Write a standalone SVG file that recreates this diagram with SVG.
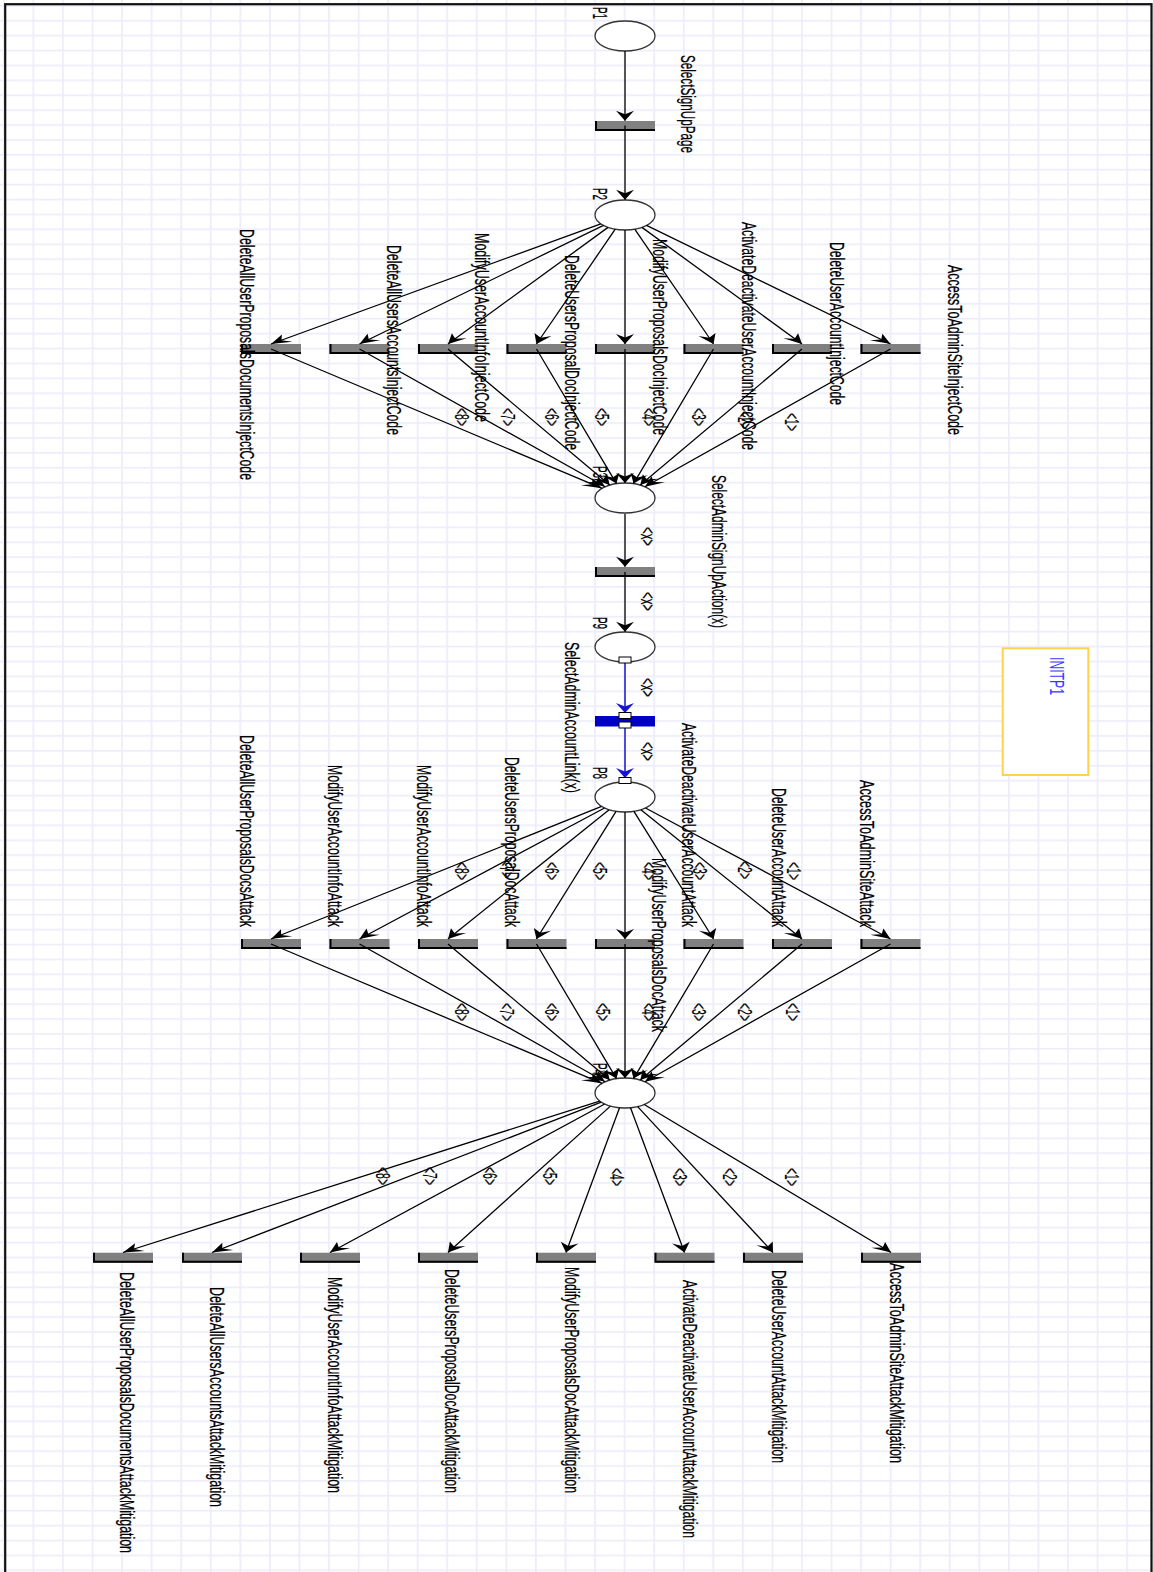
<svg xmlns="http://www.w3.org/2000/svg" width="1153" height="1572" viewBox="0 0 1153 1572">
  <defs>
    <style>
      .place{fill:#fff;stroke:#333;stroke-width:1.3}
      .trans{fill:#808080}
      .transb{fill:#0000c4}
      .edge{fill:none;stroke:#000;stroke-width:2}
      .arc{fill:none;stroke:#000;stroke-width:1.3;vector-effect:non-scaling-stroke;marker-end:url(#ah)}
      .arcb{fill:none;stroke:#1414d2;stroke-width:1.5;vector-effect:non-scaling-stroke;marker-end:url(#ahb)}
      .lbl{font-family:"Liberation Sans",Arial,sans-serif;font-size:21px;fill:#000;stroke:#000;stroke-width:0.25}
      .w{font-family:"Liberation Sans",Arial,sans-serif;font-size:20px;fill:#000;stroke:#000;stroke-width:0.2}
      .init{font-family:"Liberation Sans",Arial,sans-serif;font-size:21px;fill:#3a3aff}
      .handle{fill:#fff;stroke:#000;stroke-width:1}
    </style>
    <pattern id="grid" patternUnits="userSpaceOnUse" x="32.5" y="19.9" width="29.56" height="14.9">
      <rect x="0" y="0" width="1.7" height="14.9" fill="#ececfb"/>
      <rect x="0" y="0" width="29.56" height="1.6" fill="#ececfb"/>
    </pattern>
    <marker id="ah" markerUnits="userSpaceOnUse" markerWidth="26" markerHeight="26" viewBox="-23 -13 26 26" refX="0" refY="0" orient="auto" overflow="visible">
      <path d="M0,0 L-20,-9 L-13,0 L-20,9 Z" fill="#000"/>
    </marker>
    <marker id="ahb" markerUnits="userSpaceOnUse" markerWidth="26" markerHeight="26" viewBox="-23 -13 26 26" refX="0" refY="0" orient="auto" overflow="visible">
      <path d="M0,0 L-20,-9 L-13,0 L-20,9 Z" fill="#1414d2"/>
    </marker>
  </defs>

  <!-- canvas -->
  <rect x="0" y="0" width="1153" height="1572" fill="#fff"/>
  <rect x="0" y="0" width="1153" height="1572" fill="url(#grid)"/>
  <rect x="5.2" y="4.2" width="1146.3" height="1600" fill="none" stroke="#111" stroke-width="2.2"/>

  <!-- places -->
  <g id="P1"><ellipse class="place" cx="625" cy="36" rx="30" ry="15"/>
    <text class="lbl" transform="translate(592.5,7) rotate(90) scale(0.58,1)" textLength="20.7" lengthAdjust="spacingAndGlyphs">P1</text></g>
  <g id="P2"><ellipse class="place" cx="625" cy="215" rx="30" ry="15"/>
    <text class="lbl" transform="translate(592.5,188) rotate(90) scale(0.58,1)" textLength="20.7" lengthAdjust="spacingAndGlyphs">P2</text></g>
  <g id="P3"><ellipse class="place" cx="625" cy="498" rx="30" ry="15"/>
    <text class="lbl" transform="translate(592.5,466) rotate(90) scale(0.58,1)" textLength="20.7" lengthAdjust="spacingAndGlyphs">P3</text></g>
  <g id="P9"><ellipse class="place" cx="625" cy="647" rx="30" ry="15"/>
    <text class="lbl" transform="translate(592.5,617) rotate(90) scale(0.58,1)" textLength="20.7" lengthAdjust="spacingAndGlyphs">P9</text></g>
  <g id="P8"><ellipse class="place" cx="625" cy="797" rx="30" ry="15"/>
    <text class="lbl" transform="translate(592.5,767) rotate(90) scale(0.58,1)" textLength="20.7" lengthAdjust="spacingAndGlyphs">P8</text></g>
  <g id="P4"><ellipse class="place" cx="625" cy="1093" rx="30" ry="15"/>
    <text class="lbl" transform="translate(592.5,1063) rotate(90) scale(0.58,1)" textLength="20.7" lengthAdjust="spacingAndGlyphs">P4</text></g>

  <!-- initial marking box -->
  <g id="INITP1">
    <rect x="1002.7" y="648.3" width="85.6" height="126.7" fill="#fff" stroke="#ffd24a" stroke-width="2"/>
    <text class="init" transform="translate(1049.5,657) rotate(90) scale(0.58,1)" textLength="65.5" lengthAdjust="spacingAndGlyphs">INITP1</text>
  </g>

  <!-- entry transitions -->
  <g id="SelectSignUpPage"><rect class="trans" x="595" y="121" width="60" height="10"/><path class="edge" d="M596,121 V130 H655"/>
    <text class="lbl" transform="translate(681,55) rotate(90) scale(0.58,1)" textLength="169" lengthAdjust="spacingAndGlyphs">SelectSignUpPage</text></g>
  <g id="SelectAdminSignUpAction"><rect class="trans" x="595" y="567" width="60" height="10"/><path class="edge" d="M596,567 V576 H655"/>
    <text class="lbl" transform="translate(711.5,475) rotate(90) scale(0.58,1)" textLength="263.8" lengthAdjust="spacingAndGlyphs">SelectAdminSignUpAction(x)</text></g>
  <g id="SelectAdminAccountLink"><rect class="transb" x="595" y="716" width="60" height="10.5"/>
    <text class="lbl" transform="translate(564.5,642) rotate(90) scale(0.58,1)" textLength="260.3" lengthAdjust="spacingAndGlyphs">SelectAdminAccountLink(x)</text></g>

  <!-- inject-code transitions -->
  <g id="DeleteAllUserProposalsDocumentsInjectCode"><rect class="trans" x="241" y="344" width="60" height="10"/><path class="edge" d="M242,344 V353 H301"/>
    <text class="lbl" transform="translate(239.5,229) rotate(90) scale(0.58,1)" textLength="432.8" lengthAdjust="spacingAndGlyphs">DeleteAllUserProposalsDocumentsInjectCode</text></g>
  <g id="DeleteAllUsersAccountsInjectCode"><rect class="trans" x="329.5" y="344" width="60" height="10"/><path class="edge" d="M330.5,344 V353 H389.5"/>
    <text class="lbl" transform="translate(387.2,245) rotate(90) scale(0.58,1)" textLength="327.6" lengthAdjust="spacingAndGlyphs">DeleteAllUsersAccountsInjectCode</text></g>
  <g id="ModifyUserAccountInfoInjectCode"><rect class="trans" x="418" y="344" width="60" height="10"/><path class="edge" d="M419,344 V353 H478"/>
    <text class="lbl" transform="translate(475.2,233) rotate(90) scale(0.58,1)" textLength="325.9" lengthAdjust="spacingAndGlyphs">ModifyUserAccountInfoInjectCode</text></g>
  <g id="DeleteUsersProposalDocInjectCode"><rect class="trans" x="506.5" y="344" width="60" height="10"/><path class="edge" d="M507.5,344 V353 H566.5"/>
    <text class="lbl" transform="translate(564.5,255) rotate(90) scale(0.58,1)" textLength="336.2" lengthAdjust="spacingAndGlyphs">DeleteUsersProposalDocInjectCode</text></g>
  <g id="ModifyUserProposalsDocInjectCode"><rect class="trans" x="595" y="344" width="60" height="10"/><path class="edge" d="M596,344 V353 H655"/>
    <text class="lbl" transform="translate(652.5,239) rotate(90) scale(0.58,1)" textLength="337.9" lengthAdjust="spacingAndGlyphs">ModifyUserProposalsDocInjectCode</text></g>
  <g id="ActivateDeactivateUserAccountInjectCode"><rect class="trans" x="683.5" y="344" width="60" height="10"/><path class="edge" d="M684.5,344 V353 H743.5"/>
    <text class="lbl" transform="translate(741.5,222) rotate(90) scale(0.58,1)" textLength="393.1" lengthAdjust="spacingAndGlyphs">ActivateDeactivateUserAccountInjectCode</text></g>
  <g id="DeleteUserAccountInjectCode"><rect class="trans" x="772" y="344" width="60" height="10"/><path class="edge" d="M773,344 V353 H832"/>
    <text class="lbl" transform="translate(830.2,242) rotate(90) scale(0.58,1)" textLength="281" lengthAdjust="spacingAndGlyphs">DeleteUserAccountInjectCode</text></g>
  <g id="AccessToAdminSiteInjectCode"><rect class="trans" x="860.5" y="344" width="60" height="10"/><path class="edge" d="M861.5,344 V353 H920.5"/>
    <text class="lbl" transform="translate(947.5,265) rotate(90) scale(0.58,1)" textLength="293.1" lengthAdjust="spacingAndGlyphs">AccessToAdminSiteInjectCode</text></g>

  <!-- attack transitions -->
  <g id="DeleteAllUserProposalsDocsAttack"><rect class="trans" x="241" y="939" width="60" height="10"/><path class="edge" d="M242,939 V948 H301"/>
    <text class="lbl" transform="translate(239.5,735) rotate(90) scale(0.58,1)" textLength="331" lengthAdjust="spacingAndGlyphs">DeleteAllUserProposalsDocsAttack</text></g>
  <g id="DeleteAllUsersAccountsAttack"><rect class="trans" x="329.5" y="939" width="60" height="10"/><path class="edge" d="M330.5,939 V948 H389.5"/>
    <text class="lbl" transform="translate(327.5,765) rotate(90) scale(0.58,1)" textLength="279.3" lengthAdjust="spacingAndGlyphs">ModifyUserAccountInfoAttack</text></g>
  <g id="ModifyUserAccountInfoAttack"><rect class="trans" x="418" y="939" width="60" height="10"/><path class="edge" d="M419,939 V948 H478"/>
    <text class="lbl" transform="translate(416.5,765) rotate(90) scale(0.58,1)" textLength="279.3" lengthAdjust="spacingAndGlyphs">ModifyUserAccountInfoAttack</text></g>
  <g id="DeleteUsersProposalDocAttack"><rect class="trans" x="506.5" y="939" width="60" height="10"/><path class="edge" d="M507.5,939 V948 H566.5"/>
    <text class="lbl" transform="translate(504.5,757) rotate(90) scale(0.58,1)" textLength="293.1" lengthAdjust="spacingAndGlyphs">DeleteUsersProposalDocAttack</text></g>
  <g id="ModifyUserProposalsDocAttack"><rect class="trans" x="595" y="939" width="60" height="10"/><path class="edge" d="M596,939 V948 H655"/>
    <text class="lbl" transform="translate(651.5,858) rotate(90) scale(0.58,1)" textLength="300" lengthAdjust="spacingAndGlyphs">ModifyUserProposalsDocAttack</text></g>
  <g id="ActivateDeactivateUserAccountAttack"><rect class="trans" x="683.5" y="939" width="60" height="10"/><path class="edge" d="M684.5,939 V948 H743.5"/>
    <text class="lbl" transform="translate(681.5,723) rotate(90) scale(0.58,1)" textLength="351.7" lengthAdjust="spacingAndGlyphs">ActivateDeactivateUserAccountAttack</text></g>
  <g id="DeleteUserAccountAttack"><rect class="trans" x="772" y="939" width="60" height="10"/><path class="edge" d="M773,939 V948 H832"/>
    <text class="lbl" transform="translate(771.5,788) rotate(90) scale(0.58,1)" textLength="239.7" lengthAdjust="spacingAndGlyphs">DeleteUserAccountAttack</text></g>
  <g id="AccessToAdminSiteAttack"><rect class="trans" x="860.5" y="939" width="60" height="10"/><path class="edge" d="M861.5,939 V948 H920.5"/>
    <text class="lbl" transform="translate(859.5,780) rotate(90) scale(0.58,1)" textLength="253.4" lengthAdjust="spacingAndGlyphs">AccessToAdminSiteAttack</text></g>

  <!-- mitigation transitions -->
  <g id="DeleteAllUserProposalsDocumentsAttackMitigation"><rect class="trans" x="93" y="1252.7" width="60" height="10"/><path class="edge" d="M94,1252.7 V1261.7 H153"/>
    <text class="lbl" transform="translate(119.5,1272) rotate(90) scale(0.58,1)" textLength="484.5" lengthAdjust="spacingAndGlyphs">DeleteAllUserProposalsDocumentsAttackMitigation</text></g>
  <g id="DeleteAllUsersAccountsAttackMitigation"><rect class="trans" x="182" y="1252.7" width="60" height="10"/><path class="edge" d="M183,1252.7 V1261.7 H242"/>
    <text class="lbl" transform="translate(209.5,1287) rotate(90) scale(0.58,1)" textLength="379.3" lengthAdjust="spacingAndGlyphs">DeleteAllUsersAccountsAttackMitigation</text></g>
  <g id="ModifyUserAccountInfoAttackMitigation"><rect class="trans" x="300" y="1252.7" width="60" height="10"/><path class="edge" d="M301,1252.7 V1261.7 H360"/>
    <text class="lbl" transform="translate(327.5,1277) rotate(90) scale(0.58,1)" textLength="372.4" lengthAdjust="spacingAndGlyphs">ModifyUserAccountInfoAttackMitigation</text></g>
  <g id="DeleteUsersProposalDocAttackMitigation"><rect class="trans" x="418" y="1252.7" width="60" height="10"/><path class="edge" d="M419,1252.7 V1261.7 H478"/>
    <text class="lbl" transform="translate(444.5,1269) rotate(90) scale(0.58,1)" textLength="386.2" lengthAdjust="spacingAndGlyphs">DeleteUsersProposalDocAttackMitigation</text></g>
  <g id="ModifyUserProposalsDocAttackMitigation"><rect class="trans" x="536" y="1252.7" width="60" height="10"/><path class="edge" d="M537,1252.7 V1261.7 H596"/>
    <text class="lbl" transform="translate(564.5,1267) rotate(90) scale(0.58,1)" textLength="389.7" lengthAdjust="spacingAndGlyphs">ModifyUserProposalsDocAttackMitigation</text></g>
  <g id="ActivateDeactivateUserAccountAttackMitigation"><rect class="trans" x="654.5" y="1252.7" width="60" height="10"/><path class="edge" d="M655.5,1252.7 V1261.7 H714.5"/>
    <text class="lbl" transform="translate(682.5,1280) rotate(90) scale(0.58,1)" textLength="444.8" lengthAdjust="spacingAndGlyphs">ActivateDeactivateUserAccountAttackMitigation</text></g>
  <g id="DeleteUserAccountAttackMitigation"><rect class="trans" x="743" y="1252.7" width="60" height="10"/><path class="edge" d="M744,1252.7 V1261.7 H803"/>
    <text class="lbl" transform="translate(771.5,1270) rotate(90) scale(0.58,1)" textLength="332.8" lengthAdjust="spacingAndGlyphs">DeleteUserAccountAttackMitigation</text></g>
  <g id="AccessToAdminSiteAttackMitigation"><rect class="trans" x="861" y="1252.7" width="60" height="10"/><path class="edge" d="M862,1252.7 V1261.7 H921"/>
    <text class="lbl" transform="translate(889.5,1263) rotate(90) scale(0.58,1)" textLength="344.8" lengthAdjust="spacingAndGlyphs">AccessToAdminSiteAttackMitigation</text></g>

  <!-- arcs: drawn at double height, then compressed vertically -->
  <g id="connectors">
    <g transform="scale(1,0.5)">
      <path class="arc" d="M625,102 L625,241.5"/>
      <path class="arc" d="M625,251 L625,399.5"/>
      <!-- P2 to inject-code transitions -->
      <path class="arc" d="M600.76,447.67 L271,688"/>
      <path class="arc" d="M603.49,450.91 L359.5,688"/>
      <path class="arc" d="M608.03,454.74 L448,688"/>
      <path class="arc" d="M615.27,458.38 L536.5,688"/>
      <path class="arc" d="M625,460 L625,688"/>
      <path class="arc" d="M634.73,458.38 L713.5,688"/>
      <path class="arc" d="M641.97,454.74 L802,688"/>
      <path class="arc" d="M646.51,450.91 L890.5,688"/>
      <!-- inject-code transitions to P3 -->
      <path class="arc" d="M271,698 L602.05,976.68"/>
      <path class="arc" d="M359.5,698 L605.04,973.6"/>
      <path class="arc" d="M448,698 L609.68,970.21"/>
      <path class="arc" d="M536.5,698 L616.46,967.24"/>
      <path class="arc" d="M625,698 L625,966"/>
      <path class="arc" d="M713.5,698 L633.54,967.24"/>
      <path class="arc" d="M802,698 L640.32,970.21"/>
      <path class="arc" d="M890.5,698 L644.96,973.6"/>
      <!-- admin sign-up chain -->
      <path class="arc" d="M625,1028 L625,1133.5"/>
      <path class="arc" d="M625,1144 L625,1263.5"/>
      <path class="arcb" d="M625,1324 L625,1426"/>
      <path class="arcb" d="M625,1452 L625,1556"/>
      <!-- P8 to attack transitions -->
      <path class="arc" d="M601.6,1612.77 L271,1878"/>
      <path class="arc" d="M604.51,1615.92 L359.5,1878"/>
      <path class="arc" d="M609.13,1619.46 L448,1878"/>
      <path class="arc" d="M616.07,1622.64 L536.5,1878"/>
      <path class="arc" d="M625,1624 L625,1878"/>
      <path class="arc" d="M633.93,1622.64 L713.5,1878"/>
      <path class="arc" d="M640.87,1619.46 L802,1878"/>
      <path class="arc" d="M645.49,1615.92 L890.5,1878"/>
      <!-- attack transitions to P4 -->
      <path class="arc" d="M271,1888 L602.05,2166.68"/>
      <path class="arc" d="M359.5,1888 L605.04,2163.6"/>
      <path class="arc" d="M448,1888 L609.68,2160.21"/>
      <path class="arc" d="M536.5,1888 L616.46,2157.24"/>
      <path class="arc" d="M625,1888 L625,2156"/>
      <path class="arc" d="M713.5,1888 L633.54,2157.24"/>
      <path class="arc" d="M802,1888 L640.32,2160.21"/>
      <path class="arc" d="M890.5,1888 L644.96,2163.6"/>
      <!-- P4 to mitigation transitions -->
      <path class="arc" d="M599.68,2202.09 L123,2505"/>
      <path class="arc" d="M601.26,2204.34 L212,2505"/>
      <path class="arc" d="M604.63,2208.03 L330,2505"/>
      <path class="arc" d="M610.44,2212.23 L448,2505"/>
      <path class="arc" d="M619.54,2215.5 L566,2505"/>
      <path class="arc" d="M630.5,2215.49 L684.5,2505"/>
      <path class="arc" d="M637.63,2213.21 L773,2505"/>
      <path class="arc" d="M644.21,2209.04 L891,2505"/>
    </g>

    <!-- arc weights -->
    <g id="arc-labels">
      <text class="w" transform="translate(455,408) rotate(90)" textLength="18" lengthAdjust="spacingAndGlyphs">&lt;8&gt;</text>
      <text class="w" transform="translate(501,408) rotate(90)" textLength="18" lengthAdjust="spacingAndGlyphs">&lt;7&gt;</text>
      <text class="w" transform="translate(545,408) rotate(90)" textLength="18" lengthAdjust="spacingAndGlyphs">&lt;6&gt;</text>
      <text class="w" transform="translate(595,408) rotate(90)" textLength="18" lengthAdjust="spacingAndGlyphs">&lt;5&gt;</text>
      <text class="w" transform="translate(642,408) rotate(90)" textLength="18" lengthAdjust="spacingAndGlyphs">&lt;4&gt;</text>
      <text class="w" transform="translate(692,408) rotate(90)" textLength="18" lengthAdjust="spacingAndGlyphs">&lt;3&gt;</text>
      <text class="w" transform="translate(738,411) rotate(90)" textLength="18" lengthAdjust="spacingAndGlyphs">&lt;2&gt;</text>
      <text class="w" transform="translate(785,413) rotate(90)" textLength="18" lengthAdjust="spacingAndGlyphs">&lt;1&gt;</text>

      <text class="w" transform="translate(641,527) rotate(90)" textLength="19" lengthAdjust="spacingAndGlyphs">&lt;x&gt;</text>
      <text class="w" transform="translate(641,592) rotate(90)" textLength="19" lengthAdjust="spacingAndGlyphs">&lt;x&gt;</text>
      <text class="w" transform="translate(641,678) rotate(90)" textLength="19" lengthAdjust="spacingAndGlyphs">&lt;x&gt;</text>
      <text class="w" transform="translate(641,742) rotate(90)" textLength="19" lengthAdjust="spacingAndGlyphs">&lt;x&gt;</text>

      <text class="w" transform="translate(455,862) rotate(90)" textLength="18" lengthAdjust="spacingAndGlyphs">&lt;8&gt;</text>
      <text class="w" transform="translate(500,860) rotate(90)" textLength="18" lengthAdjust="spacingAndGlyphs">&lt;7&gt;</text>
      <text class="w" transform="translate(545,862) rotate(90)" textLength="18" lengthAdjust="spacingAndGlyphs">&lt;6&gt;</text>
      <text class="w" transform="translate(593,862) rotate(90)" textLength="18" lengthAdjust="spacingAndGlyphs">&lt;5&gt;</text>
      <text class="w" transform="translate(642,862) rotate(90)" textLength="18" lengthAdjust="spacingAndGlyphs">&lt;4&gt;</text>
      <text class="w" transform="translate(693,862) rotate(90)" textLength="18" lengthAdjust="spacingAndGlyphs">&lt;3&gt;</text>
      <text class="w" transform="translate(738,861) rotate(90)" textLength="18" lengthAdjust="spacingAndGlyphs">&lt;2&gt;</text>
      <text class="w" transform="translate(787,862) rotate(90)" textLength="18" lengthAdjust="spacingAndGlyphs">&lt;1&gt;</text>

      <text class="w" transform="translate(455,1003) rotate(90)" textLength="18" lengthAdjust="spacingAndGlyphs">&lt;8&gt;</text>
      <text class="w" transform="translate(500,1003) rotate(90)" textLength="18" lengthAdjust="spacingAndGlyphs">&lt;7&gt;</text>
      <text class="w" transform="translate(545,1003) rotate(90)" textLength="18" lengthAdjust="spacingAndGlyphs">&lt;6&gt;</text>
      <text class="w" transform="translate(596,1003) rotate(90)" textLength="18" lengthAdjust="spacingAndGlyphs">&lt;5&gt;</text>
      <text class="w" transform="translate(642,1003) rotate(90)" textLength="18" lengthAdjust="spacingAndGlyphs">&lt;4&gt;</text>
      <text class="w" transform="translate(692,1003) rotate(90)" textLength="18" lengthAdjust="spacingAndGlyphs">&lt;3&gt;</text>
      <text class="w" transform="translate(738,1003) rotate(90)" textLength="18" lengthAdjust="spacingAndGlyphs">&lt;2&gt;</text>
      <text class="w" transform="translate(786,1003) rotate(90)" textLength="18" lengthAdjust="spacingAndGlyphs">&lt;1&gt;</text>

      <text class="w" transform="translate(376,1167) rotate(90)" textLength="18" lengthAdjust="spacingAndGlyphs">&lt;8&gt;</text>
      <text class="w" transform="translate(423,1167) rotate(90)" textLength="18" lengthAdjust="spacingAndGlyphs">&lt;7&gt;</text>
      <text class="w" transform="translate(483,1167) rotate(90)" textLength="18" lengthAdjust="spacingAndGlyphs">&lt;6&gt;</text>
      <text class="w" transform="translate(543,1167) rotate(90)" textLength="18" lengthAdjust="spacingAndGlyphs">&lt;5&gt;</text>
      <text class="w" transform="translate(610,1168) rotate(90)" textLength="18" lengthAdjust="spacingAndGlyphs">&lt;4&gt;</text>
      <text class="w" transform="translate(673,1168) rotate(90)" textLength="18" lengthAdjust="spacingAndGlyphs">&lt;3&gt;</text>
      <text class="w" transform="translate(723,1168) rotate(90)" textLength="18" lengthAdjust="spacingAndGlyphs">&lt;2&gt;</text>
      <text class="w" transform="translate(785,1168) rotate(90)" textLength="18" lengthAdjust="spacingAndGlyphs">&lt;1&gt;</text>
    </g>

    <!-- selection handles on the highlighted arcs -->
    <g id="handles">
      <rect class="handle" x="619" y="657" width="12" height="6"/>
      <rect class="handle" x="619" y="712.5" width="12" height="6"/>
      <rect class="handle" x="619" y="722" width="12" height="6"/>
      <rect class="handle" x="619" y="777.5" width="12" height="6"/>
    </g>
  </g>
</svg>
